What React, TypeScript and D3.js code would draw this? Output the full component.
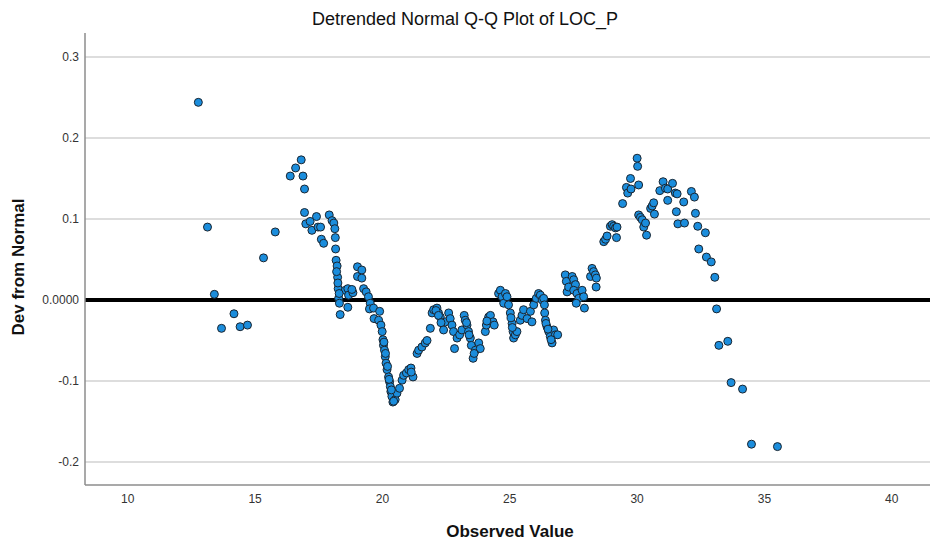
import React from "react";
import * as d3 from "d3";

const observed: number[] = [
  12.77, 13.13, 13.4, 13.68, 14.17, 14.41, 14.7, 15.33, 15.79, 16.38, 16.59, 16.81, 16.88, 16.94, 16.94, 16.99,
  17.16, 17.23, 17.41, 17.47, 17.57, 17.6, 17.69, 17.91, 18.02, 18.09, 18.13, 18.15, 18.16, 18.18, 18.22, 18.24,
  18.26, 18.28, 18.31, 18.34, 18.54, 18.64, 18.64, 18.67, 18.84, 18.8, 19.02, 19.02, 19.19, 19.19, 19.26, 19.36,
  19.45, 19.52, 19.49, 19.65, 19.67, 19.89, 19.85, 19.94, 19.99, 20.02, 20.04, 20.08, 20.11, 20.14, 20.18, 20.24,
  20.28, 20.31, 20.33, 20.37, 20.41, 20.5, 20.57, 20.67, 20.77, 20.83, 20.94, 21.03, 21.12, 21.2, 21.13, 21.36,
  21.42, 21.55, 21.68, 21.75, 21.88, 21.95, 22.01, 22.14, 22.2, 22.27, 22.4, 22.47, 22.6, 22.66, 22.73, 22.79,
  22.83, 22.93, 23.03, 23.12, 23.21, 23.25, 23.32, 23.38, 23.45, 23.49, 23.56, 23.65, 23.78, 23.84, 24.04, 24.08,
  24.17, 24.24, 24.34, 24.39, 24.56, 24.63, 24.7, 24.76, 24.83, 24.89, 24.95, 25.02, 25.09, 25.13, 25.15, 25.22,
  25.28, 25.41, 25.48, 25.54, 25.68, 25.81, 25.87, 25.94, 26.04, 26.13, 26.2, 26.27, 26.33, 26.36, 26.37, 26.4,
  26.46, 26.53, 26.59, 26.66, 26.72, 26.79, 26.88, 27.18, 27.22, 27.25, 27.31, 27.45, 27.51, 27.58, 27.51, 27.64,
  27.71, 27.61, 27.84, 27.9, 27.93, 28.17, 28.23, 28.29, 28.36, 28.4, 28.39, 28.69, 28.76, 28.82, 28.95, 29.02,
  29.08, 29.15, 29.19, 29.21, 29.43, 29.58, 29.63, 29.74, 29.76, 30.0, 30.02, 30.06, 30.06, 30.13, 30.2, 30.26,
  30.33, 30.37, 30.53, 30.59, 30.65, 30.68, 30.89, 31.02, 31.11, 31.2, 31.2, 31.39, 31.5, 31.57, 31.54, 31.6,
  31.86, 31.83, 32.13, 32.25, 32.29, 32.38, 32.42, 32.68, 32.72, 32.91, 33.05, 33.12, 33.21, 33.56, 33.69, 34.14,
  34.49, 35.51,
  // additional overlapping readings in dense columns
  18.2, 18.25, 18.3, 20.06, 20.12, 20.2, 20.26, 20.35, 20.44, 22.1, 22.2, 22.3, 23.3, 23.4, 23.6, 24.1,
  25.05, 25.1, 26.42, 26.5, 26.62,
];

const deviation: number[] = [
  0.244, 0.09, 0.007, -0.035, -0.017, -0.033, -0.031, 0.052, 0.084, 0.153, 0.163, 0.173, 0.153, 0.137, 0.108, 0.094,
  0.097, 0.086, 0.103, 0.09, 0.09, 0.075, 0.07, 0.105, 0.098, 0.095, 0.088, 0.077, 0.063, 0.049, 0.042, 0.028,
  0.014, 0.002, -0.004, -0.018, 0.012, 0.014, -0.009, 0.006, 0.009, 0.013, 0.041, 0.029, 0.037, 0.027, 0.014, 0.01,
  0.004, -0.004, -0.011, -0.01, -0.023, -0.014, -0.025, -0.031, -0.039, -0.049, -0.056, -0.062, -0.07, -0.078, -0.086, -0.095,
  -0.101, -0.107, -0.113, -0.119, -0.126, -0.123, -0.115, -0.109, -0.099, -0.093, -0.09, -0.086, -0.084, -0.095, -0.089, -0.066,
  -0.062, -0.058, -0.053, -0.05, -0.035, -0.016, -0.012, -0.01, -0.016, -0.021, -0.037, -0.027, -0.016, -0.023, -0.031, -0.039,
  -0.06, -0.047, -0.043, -0.037, -0.019, -0.025, -0.031, -0.039, -0.047, -0.056, -0.072, -0.062, -0.053, -0.06, -0.039, -0.031,
  -0.021, -0.019, -0.027, -0.031, 0.008, 0.012, 0.004, -0.004, 0.008, 0.004, -0.006, -0.016, -0.029, -0.039, -0.047, -0.043,
  -0.039, -0.025, -0.019, -0.012, -0.023, -0.014, -0.027, -0.006, 0.002, 0.008, 0.006, 0.0, 0.002, -0.006, -0.016, -0.025,
  -0.033, -0.039, -0.045, -0.053, -0.037, -0.043, -0.043, 0.031, 0.023, 0.01, 0.016, 0.029, 0.025, 0.019, 0.012, 0.008,
  0.002, -0.004, 0.012, 0.004, -0.01, 0.029, 0.039, 0.035, 0.031, 0.027, 0.016, 0.072, 0.075, 0.079, 0.091, 0.093,
  0.091, 0.089, 0.077, 0.09, 0.119, 0.139, 0.132, 0.15, 0.137, 0.175, 0.165, 0.142, 0.105, 0.102, 0.099, 0.09,
  0.095, 0.08, 0.113, 0.116, 0.12, 0.106, 0.135, 0.146, 0.138, 0.137, 0.123, 0.144, 0.132, 0.131, 0.109, 0.094,
  0.095, 0.121, 0.134, 0.127, 0.107, 0.091, 0.063, 0.083, 0.053, 0.047, 0.028, -0.011, -0.056, -0.051, -0.102, -0.11,
  -0.178, -0.181,
  0.035, 0.021, 0.008, -0.052, -0.066, -0.082, -0.098, -0.111, -0.125, -0.013, -0.019, -0.028, -0.028, -0.043, -0.066, -0.026,
  -0.022, -0.034, -0.029, -0.036, -0.049,
];

const xTicks: number[] = [10, 15, 20, 25, 30, 35, 40];
const yTicks: number[] = [-0.2, -0.1, 0.1, 0.2, 0.3];
const yTickLabels: string[] = ["-0.2", "-0.1", "0.1", "0.2", "0.3"];
const zeroLabel = "0.0000";

const W = 930;
const H = 543;
const L = 85;
const R = 930;
const T = 33;
const B = 485;

export default function App() {
  const x = d3.scaleLinear().domain([8.32, 41.5]).range([L, R]);
  const y = d3.scaleLinear().domain([-0.2284, 0.3296]).range([B, T]);
  const font = "'Liberation Sans', Arial, sans-serif";
  const pts = observed.map((v, i) => ({ v, d: deviation[i] }));

  return (
    <svg
      width={W}
      height={H}
      style={{ position: "absolute", left: 0, top: 0, background: "#fff" }}
      fontFamily={font}
    >
      <rect x={0} y={0} width={W} height={H} fill="#fff" />
      {yTicks.map((t) => (
        <line key={"g" + t} x1={L} x2={R} y1={y(t)} y2={y(t)} stroke="#d2d2d2" strokeWidth={1.5} />
      ))}
      <line x1={L} x2={R} y1={y(0)} y2={y(0)} stroke="#000" strokeWidth={4} />
      {pts.map((p, i) => (
        <circle
          key={i}
          cx={x(p.v)}
          cy={y(p.d)}
          r={4}
          fill="#1b8ddc"
          stroke="#1a2530"
          strokeWidth={1}
        />
      ))}
      <line x1={L} x2={L} y1={T} y2={B} stroke="#8c8c8c" strokeWidth={1.5} />
      <line x1={L} x2={R} y1={B} y2={B} stroke="#8c8c8c" strokeWidth={1.5} />
      {yTicks.map((t, i) => (
        <text key={"yl" + t} x={79} y={y(t)} dy="0.35em" textAnchor="end" fontSize={12} fill="#333">
          {yTickLabels[i]}
        </text>
      ))}
      <text x={79} y={y(0)} dy="0.35em" textAnchor="end" fontSize={12} fill="#333">
        {zeroLabel}
      </text>
      {xTicks.map((t) => (
        <text key={"xl" + t} x={x(t)} y={499} dy="0.35em" textAnchor="middle" fontSize={12} fill="#333">
          {t}
        </text>
      ))}
      <text x={465} y={19} dy="0.35em" textAnchor="middle" fontSize={18} fill="#111">
        Detrended Normal Q-Q Plot of LOC_P
      </text>
      <text
        transform={`translate(18,267) rotate(-90)`}
        dy="0.35em"
        textAnchor="middle"
        fontSize={17}
        fontWeight="bold"
        fill="#111"
      >
        Dev from Normal
      </text>
      <text x={510} y={531} dy="0.35em" textAnchor="middle" fontSize={17} fontWeight="bold" fill="#111">
        Observed Value
      </text>
    </svg>
  );
}
